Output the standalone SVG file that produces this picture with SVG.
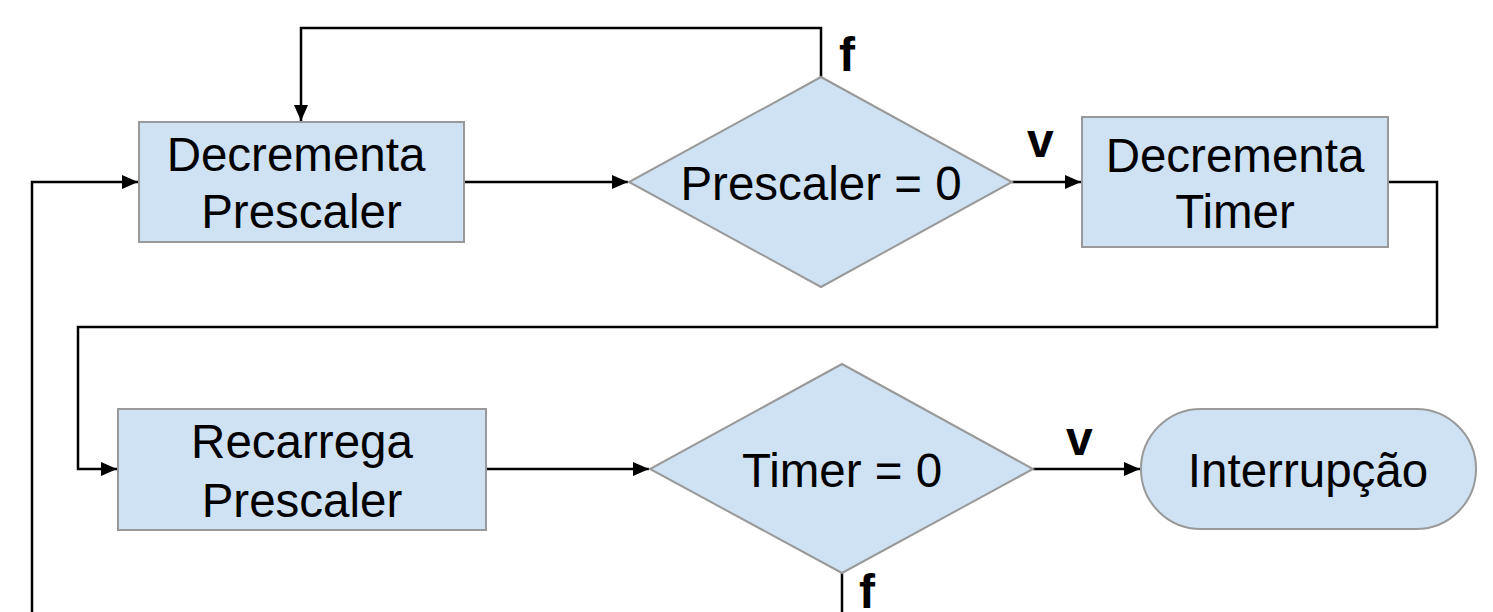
<svg xmlns="http://www.w3.org/2000/svg" width="1493" height="612" viewBox="0 0 1493 612">
  <style>
    .node { fill: #cfe2f3; stroke: #999999; stroke-width: 2; }
    .label { font-family: "Liberation Sans", Arial, sans-serif; font-size: 47.5px; fill: #000; text-anchor: middle; }
    .branch { font-family: "Liberation Sans", Arial, sans-serif; font-size: 48px; font-weight: bold; fill: #000; }
    .wire { fill: none; stroke: #000; stroke-width: 2.5; }
  </style>
  <defs>
    <marker id="arrow" markerUnits="userSpaceOnUse" markerWidth="16" markerHeight="14" refX="16" refY="7" orient="auto">
      <path d="M0,0 L16,7 L0,14 Z" fill="#000"/>
    </marker>
  </defs>
  <rect width="1493" height="612" fill="#ffffff"/>

  <!-- connectors and their branch labels -->
  <g id="connectors">
    <path class="wire" d="M821,77 V28 H301 V121" marker-end="url(#arrow)"/>
    <path class="wire" d="M464,182 H628" marker-end="url(#arrow)"/>
    <path class="wire" d="M1012,182 H1081" marker-end="url(#arrow)"/>
    <path class="wire" d="M1388,182 H1437 V327 H78 V469 H117" marker-end="url(#arrow)"/>
    <path class="wire" d="M486,469 H649" marker-end="url(#arrow)"/>
    <path class="wire" d="M1033,469 H1140" marker-end="url(#arrow)"/>
    <path class="wire" d="M842,573 V612"/>
    <path class="wire" d="M32,612 V182 H138" marker-end="url(#arrow)"/>
    <text class="branch" x="839" y="71">f</text>
    <text class="branch" x="1027" y="157">v</text>
    <text class="branch" x="1066" y="455">v</text>
    <text class="branch" x="859" y="608">f</text>
  </g>

  <g id="decrementa-prescaler">
    <rect class="node" x="139" y="122" width="325" height="120"/>
    <text class="label" x="296" y="171">Decrementa</text>
    <text class="label" x="301.5" y="228">Prescaler</text>
  </g>

  <g id="prescaler-zero">
    <polygon class="node" points="821,77 1012,182 821,287 629,182"/>
    <text class="label" x="821" y="200">Prescaler = 0</text>
  </g>

  <g id="decrementa-timer">
    <rect class="node" x="1082" y="117" width="306" height="130"/>
    <text class="label" x="1235" y="172">Decrementa</text>
    <text class="label" x="1235" y="228">Timer</text>
  </g>

  <g id="recarrega-prescaler">
    <rect class="node" x="118" y="409" width="368" height="121"/>
    <text class="label" x="302" y="458">Recarrega</text>
    <text class="label" x="302" y="517">Prescaler</text>
  </g>

  <g id="timer-zero">
    <polygon class="node" points="842,364 1033,469 842,573 650,469"/>
    <text class="label" x="842" y="487">Timer = 0</text>
  </g>

  <g id="interrupcao">
    <rect class="node" x="1141" y="409" width="335" height="120" rx="60" ry="60"/>
    <text class="label" x="1308" y="487">Interrupção</text>
  </g>
</svg>
